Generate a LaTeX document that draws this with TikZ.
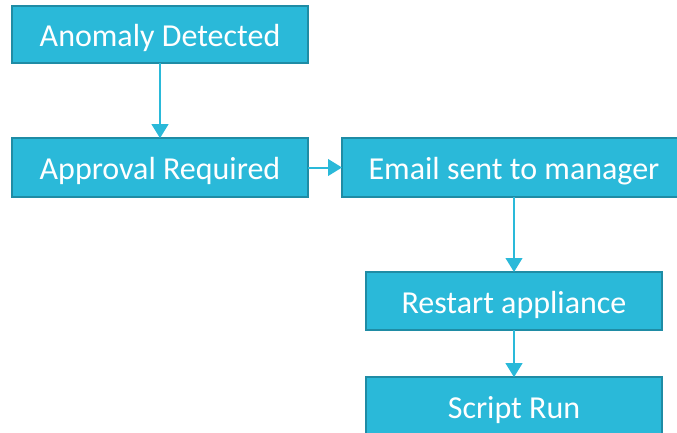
\documentclass[tikz,border=0pt]{standalone}
\usepackage{fontspec}
\setmainfont{Carlito}
\usetikzlibrary{arrows.meta}
\definecolor{boxfill}{HTML}{2AB9D9}
\definecolor{boxline}{HTML}{1F8CA5}
\definecolor{linkcol}{HTML}{2AB9D9}
\tikzset{
  stepbox/.style={draw=boxline, line width=1.6pt, fill=boxfill, text=white,
    rectangle, inner sep=0pt, outer sep=0pt, minimum width=222pt, minimum height=44pt,
    text height=20pt, text depth=2pt,
    font=\fontsize{24}{28}\selectfont},
  link/.style={draw=linkcol, line width=1.5pt,
    -{Triangle[length=10.5pt, width=12.5pt]}}
}
\begin{document}
\begin{tikzpicture}[x=0.75pt, y=-0.75pt]
\useasboundingbox (0,0) rectangle (677,432);
\clip (0,0) rectangle (677,432);
% process steps
\node[stepbox, minimum height=42.75pt] (anom) at (160,34.5) {Anomaly Detected};
\node[stepbox] (appr) at (160,167.5) {Approval Required};
\node[stepbox, minimum width=258pt] (mail) at (514,167.5) {Email sent to manager};
\node[stepbox, minimum height=43.5pt] (rest) at (514,301) {Restart appliance};
\node[stepbox] (scrp) at (514,406.5) {Script Run};
% connectors
\draw[link] (anom.south) -- (appr.north);
\draw[link] (appr.east) -- (mail.west);
\draw[link] (mail.south) -- (rest.north);
\draw[link] (rest.south) -- (scrp.north);
\end{tikzpicture}
\end{document}
